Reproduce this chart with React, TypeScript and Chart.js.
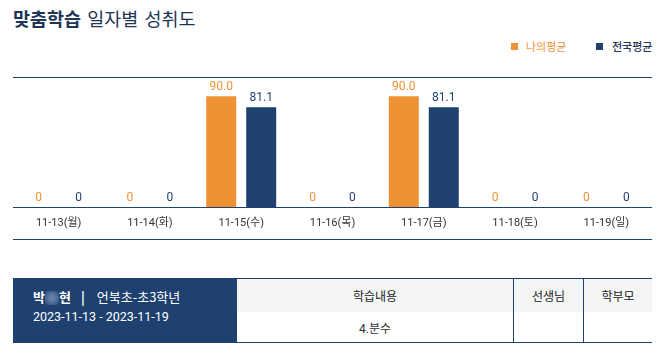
import React, { useEffect, useRef } from 'react';
import { Chart, registerables } from 'chart.js';

Chart.register(...registerables);

const categories = ['11-13(월)', '11-14(화)', '11-15(수)', '11-16(목)', '11-17(금)', '11-18(토)', '11-19(일)'];
const myAverage = [0, 0, 90.0, 0, 90.0, 0, 0];
const nationalAverage = [0, 0, 81.1, 0, 81.1, 0, 0];
const seriesNames = ['나의평균', '전국평균'];

const ORANGE = '#ef9135';
const NAVY = '#1f4170';
const FONT = "Roboto, 'Noto Sans CJK KR', sans-serif";
const KFONT = "'Noto Sans CJK KR', sans-serif";

const valueLabels = {
  id: 'valueLabels',
  afterDatasetsDraw(chart: any) {
    const ctx = chart.ctx;
    chart.data.datasets.forEach((ds: any, i: number) => {
      const meta = chart.getDatasetMeta(i);
      meta.data.forEach((el: any, j: number) => {
        const v = ds.data[j] as number;
        const txt = v === 0 ? '0' : v.toFixed(1);
        ctx.save();
        ctx.font = `12px ${FONT}`;
        ctx.fillStyle = ds.labelColor;
        ctx.textAlign = 'center';
        ctx.textBaseline = 'bottom';
        ctx.fillText(txt, el.x, el.y - 3);
        ctx.restore();
      });
    });
  },
};

function BarChart() {
  const ref = useRef<HTMLCanvasElement | null>(null);
  useEffect(() => {
    if (!ref.current) return;
    const chart = new Chart(ref.current, {
      type: 'bar',
      data: {
        labels: categories,
        datasets: [
          {
            label: seriesNames[0],
            data: myAverage,
            backgroundColor: ORANGE,
            labelColor: ORANGE,
            categoryPercentage: 0.876,
            barPercentage: 0.75,
          } as any,
          {
            label: seriesNames[1],
            data: nationalAverage,
            backgroundColor: NAVY,
            labelColor: NAVY,
            categoryPercentage: 0.876,
            barPercentage: 0.75,
          } as any,
        ],
      },
      options: {
        animation: false,
        responsive: false,
        maintainAspectRatio: false,
        layout: { padding: { top: 6, left: 0, right: 0, bottom: 0 } },
        plugins: { legend: { display: false }, tooltip: { enabled: false } },
        scales: {
          x: {
            grid: { display: false, drawTicks: false },
            border: { display: true, color: NAVY, width: 1 },
            ticks: { color: '#333', font: { size: 11, family: FONT }, padding: 10 },
            afterFit: (s: any) => {
              s.height = 32;
            },
          },
          y: { display: false, min: 0, max: 100 },
        },
      },
      plugins: [valueLabels],
    });
    return () => chart.destroy();
  }, []);
  return <canvas ref={ref} width={639} height={161} style={{ display: 'block', width: 639, height: 161 }} />;
}

export default function App() {
  const abs = (l: number, t: number, w: number, h: number, extra: any = {}) => ({
    position: 'absolute' as const,
    left: l,
    top: t,
    width: w,
    height: h,
    boxSizing: 'border-box' as const,
    ...extra,
  });
  return (
    <div style={{ position: 'absolute', left: 0, top: 0, width: 664, height: 352, background: '#fff', fontFamily: KFONT, overflow: 'hidden' }}>
      <div style={{ position: 'absolute', left: 13, top: 6, fontSize: 18.5, color: '#1f3556', whiteSpace: 'nowrap', lineHeight: '24px', wordSpacing: 2 }}>
        <span style={{ fontWeight: 700 }}>맞춤학습</span> 일자별 성취도
      </div>
      {/* legend */}
      <div style={abs(511, 43, 7, 7, { background: ORANGE })} />
      <div style={{ position: 'absolute', left: 526, top: 38, fontSize: 11, color: ORANGE, lineHeight: '16px', whiteSpace: 'nowrap' }}>{seriesNames[0]}</div>
      <div style={abs(596, 43, 7, 7, { background: NAVY })} />
      <div style={{ position: 'absolute', left: 612, top: 38, fontSize: 11, color: '#1f3556', lineHeight: '16px', whiteSpace: 'nowrap', fontWeight: 500 }}>{seriesNames[1]}</div>
      {/* chart */}
      <div style={{ position: 'absolute', left: 13, top: 77, width: 639, borderTop: `1px solid ${NAVY}`, borderBottom: `1px solid ${NAVY}` }}>
        <BarChart />
      </div>
      {/* table */}
      <div style={abs(13, 278, 224, 65, { background: NAVY, color: '#fff' })}>
        <div style={{ position: 'absolute', left: 20, top: 10, fontSize: 13, whiteSpace: 'nowrap', lineHeight: '18px' }}>
          <span style={{ fontWeight: 700 }}>박</span>
          <span style={{ display: 'inline-block', width: 14, height: 14, verticalAlign: 'middle', background: 'radial-gradient(ellipse at center, #6d86ad 0%, #4d6a96 55%, rgba(31,65,112,0) 100%)' }} />
          <span style={{ fontWeight: 700 }}>현</span>
          <span style={{ fontWeight: 700, margin: '0 12px 0 10px' }}>|</span>
          <span>언북초-초3학년</span>
        </div>
        <div style={{ position: 'absolute', left: 20, top: 31, fontSize: 12.5, whiteSpace: 'nowrap', lineHeight: '16px', fontFamily: FONT }}>2023-11-13 - 2023-11-19</div>
      </div>
      <div style={abs(237, 278, 415, 65, { borderTop: `1px solid ${NAVY}`, borderBottom: `1px solid ${NAVY}` })}>
        <div style={abs(0, 0, 415, 33, { background: '#f4f6f6' })} />
        <div style={abs(276, 0, 1, 64, { background: NAVY })} />
        <div style={abs(346, 0, 1, 64, { background: NAVY })} />
        <div style={abs(0, 0, 276, 33, { display: 'flex', alignItems: 'center', justifyContent: 'center', fontSize: 12, color: '#222' })}>학습내용</div>
        <div style={abs(277, 0, 69, 33, { display: 'flex', alignItems: 'center', justifyContent: 'center', fontSize: 12, color: '#222' })}>선생님</div>
        <div style={abs(347, 0, 68, 33, { display: 'flex', alignItems: 'center', justifyContent: 'center', fontSize: 12, color: '#222' })}>학부모</div>
        <div style={abs(0, 33, 276, 31, { display: 'flex', alignItems: 'center', justifyContent: 'center', fontSize: 12, color: '#333', fontFamily: FONT })}>4.분수</div>
      </div>
    </div>
  );
}
